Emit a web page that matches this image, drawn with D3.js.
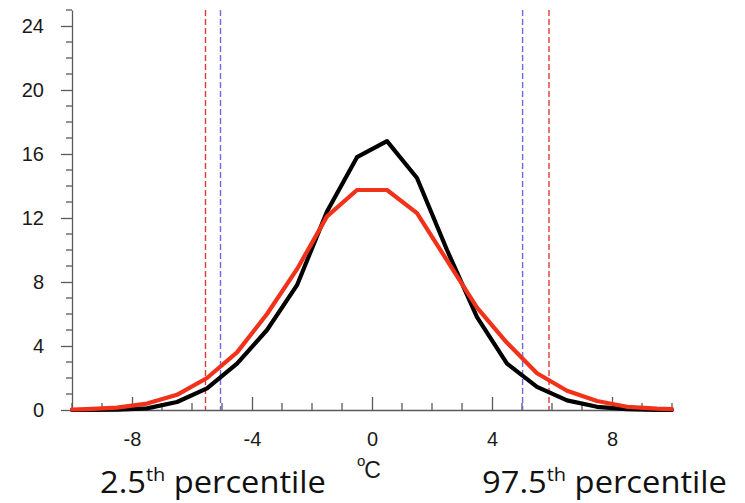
<!DOCTYPE html>
<html>
<head>
<meta charset="utf-8">
<script src="https://cdn.jsdelivr.net/npm/d3@7"></script>
<style>
  html, body { margin: 0; padding: 0; background: #fff; }
  svg { display: block; }
</style>
</head>
<body>
<svg id="chart" width="745" height="503"></svg>
<script>
// ---- data ----
const xValues = [-10, -9.5, -8.5, -7.5, -6.5, -5.5, -4.5, -3.5, -2.5, -1.5, -0.5, 0.5, 1.5, 2.5, 3.5, 4.5, 5.5, 6.5, 7.5, 8.5, 9.5, 10];
const blackValues = [0, 0, 0.02, 0.1, 0.5, 1.35, 2.9, 5.0, 7.8, 12.4, 15.8, 16.8, 14.5, 10.0, 5.8, 2.9, 1.45, 0.6, 0.2, 0.05, 0.0, 0];
const redValues = [0.03, 0.06, 0.15, 0.4, 0.95, 2.0, 3.6, 6.0, 8.8, 12.1, 13.75, 13.75, 12.3, 9.35, 6.4, 4.2, 2.3, 1.2, 0.56, 0.2, 0.08, 0.05];
const redPercentiles = [-5.55, 5.9];
const bluePercentiles = [-5.05, 5.02];
const xTicks = [-8, -4, 0, 4, 8];
const yTicks = [0, 4, 8, 12, 16, 20, 24];
const xLabel = "C";
const leftLabel = ["2.5", "th", " percentile"];
const rightLabel = ["97.5", "th", " percentile"];

// ---- layout ----
const svg = d3.select("#chart");
const x = d3.scaleLinear().domain([-10, 10]).range([72, 672]);
const y = d3.scaleLinear().domain([0, 25]).range([410, 10]);
const axisColor = "#5a5a5a";
const fmt = d => String(d);

// minor ticks
const xMinor = d3.range(-10, 10.001, 1).filter(v => !xTicks.includes(v));
const yMinor = d3.range(0, 25.001, 1).filter(v => !yTicks.includes(v));

// Y axis
const gy = svg.append("g").attr("transform", `translate(${x(-10)},0)`)
  .call(d3.axisLeft(y).tickValues(yTicks).tickSize(11).tickSizeOuter(0).tickPadding(17).tickFormat(fmt));
gy.append("g").selectAll("line").data(yMinor).join("line")
  .attr("x1", -6).attr("x2", 0).attr("y1", d => y(d)).attr("y2", d => y(d));

// X axis (ticks pointing inward)
const gx = svg.append("g").attr("transform", `translate(0,${y(0)})`)
  .call(d3.axisBottom(x).tickValues(xTicks).tickSize(-13).tickSizeOuter(0).tickPadding(22).tickFormat(fmt));
gx.append("g").selectAll("line").data(xMinor).join("line")
  .attr("x1", d => x(d)).attr("x2", d => x(d)).attr("y1", -7).attr("y2", 0);

[gx, gy].forEach(g => {
  g.selectAll("path.domain").attr("stroke", axisColor).attr("stroke-width", 1.3);
  g.selectAll("line").attr("stroke", axisColor).attr("stroke-width", 1.3);
  g.selectAll("text").attr("font-family", "'Liberation Sans', Arial, sans-serif")
    .attr("font-size", 20).attr("fill", "#1a1a1a");
});

// percentile dashed lines
const dashG = svg.append("g");
dashG.selectAll("line.red").data(redPercentiles).join("line").attr("class", "red")
  .attr("x1", d => x(d)).attr("x2", d => x(d)).attr("y1", y(25)).attr("y2", y(0))
  .attr("stroke", "#dd3b3b").attr("stroke-width", 1.4).attr("stroke-dasharray", "6,3");
dashG.selectAll("line.blue").data(bluePercentiles).join("line").attr("class", "blue")
  .attr("x1", d => x(d)).attr("x2", d => x(d)).attr("y1", y(25)).attr("y2", y(0))
  .attr("stroke", "#6a6ae6").attr("stroke-width", 1.4).attr("stroke-dasharray", "6,3");

// curves
const line = d3.line().x((d, i) => x(xValues[i])).y(d => y(d));
svg.append("path").datum(blackValues).attr("d", line)
  .attr("fill", "none").attr("stroke", "#000").attr("stroke-width", 4.2)
  .attr("stroke-linejoin", "round").attr("stroke-linecap", "round");
svg.append("path").datum(redValues).attr("d", line)
  .attr("fill", "none").attr("stroke", "#f2311a").attr("stroke-width", 4.2)
  .attr("stroke-linejoin", "round").attr("stroke-linecap", "round");

// x axis unit label
const unit = svg.append("text").attr("font-family", "'Liberation Sans', Arial, sans-serif")
  .attr("fill", "#1a1a1a").attr("x", 357).attr("y", 478);
unit.append("tspan").attr("font-size", 15).attr("dy", -12).text("o");
unit.append("tspan").attr("font-size", 23).attr("dy", 12).attr("dx", -1).text(xLabel);

// percentile labels
function pctLabel(parts, x0, width) {
  const t = svg.append("text").attr("font-family", "'Open Sans', 'Noto Sans', sans-serif")
    .attr("fill", "#111").attr("font-size", 31).attr("x", 0).attr("y", 0);
  t.append("tspan").text(parts[0]);
  t.append("tspan").attr("font-size", 19).attr("dy", -12).text(parts[1]);
  t.append("tspan").attr("dy", 12).text(parts[2]);
  const w = t.node().getComputedTextLength();
  t.attr("transform", `translate(${x0},493) scale(${width / w},1)`);
}
pctLabel(leftLabel, 100, 226);
pctLabel(rightLabel, 482, 245);
</script>
</body>
</html>
